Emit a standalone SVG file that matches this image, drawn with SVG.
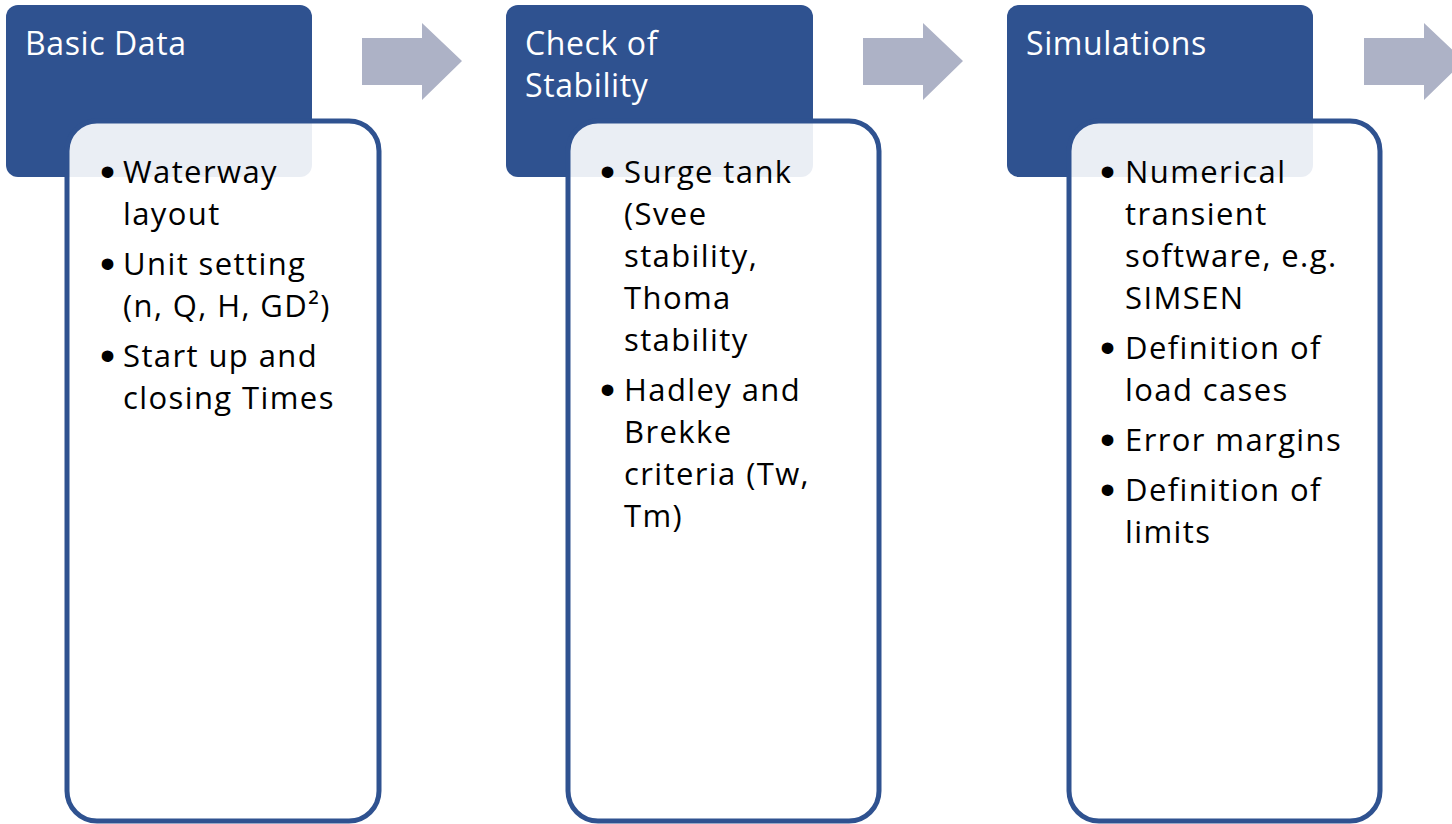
<svg xmlns="http://www.w3.org/2000/svg" width="1452" height="824" viewBox="0 0 1452 824">
<style>
.hdr{fill:#2f5290}
.body{fill:#ffffff;fill-opacity:0.9;stroke:#2f5290;stroke-width:5}
.arr{fill:#adb2c6}
.ht{font-family:"Open Sans","Noto Sans",sans-serif;font-size:32px;fill:#ffffff;letter-spacing:0.6px}
.bt{font-family:"Open Sans","Noto Sans",sans-serif;font-size:31px;fill:#000000;letter-spacing:1.4px}
.bul{font-family:"Liberation Sans",Arial,sans-serif;font-size:43px;fill:#000000}
</style>
<rect width="1452" height="824" fill="#ffffff"/>
<g id="connectors">
<polygon class="arr" points="362,38 422,38 422,23 462,61 422,100 422,85 362,85"/>
<polygon class="arr" points="863,38 923,38 923,23 963,61 923,100 923,85 863,85"/>
<polygon class="arr" points="1364,38 1424,38 1424,23 1464,61 1424,100 1424,85 1364,85"/>
</g>
<g id="node-basic-data">
<rect class="hdr" x="6" y="5" width="306" height="172" rx="12"/>
<rect class="body" x="67" y="121" width="312" height="700" rx="30"/>
<text class="ht" x="25" y="55">Basic Data</text>
<text class="bul" x="100" y="186">•</text><text class="bt" x="123" y="183">Waterway</text>
<text class="bt" x="123" y="225">layout</text>
<text class="bul" x="100" y="278">•</text><text class="bt" x="123" y="275">Unit setting</text>
<text class="bt" x="123" y="317">(n, Q, H, GD²)</text>
<text class="bul" x="100" y="370">•</text><text class="bt" x="123" y="367">Start up and</text>
<text class="bt" x="123" y="409">closing Times</text>
</g>
<g id="node-check-stability">
<rect class="hdr" x="506" y="5" width="307" height="172" rx="12"/>
<rect class="body" x="568" y="121" width="311" height="700" rx="30"/>
<text class="ht" x="525" y="55">Check of</text>
<text class="ht" x="525" y="97">Stability</text>
<text class="bul" x="600" y="186">•</text><text class="bt" x="624" y="183">Surge tank</text>
<text class="bt" x="624" y="225">(Svee</text>
<text class="bt" x="624" y="267">stability,</text>
<text class="bt" x="624" y="309">Thoma</text>
<text class="bt" x="624" y="351">stability</text>
<text class="bul" x="600" y="404">•</text><text class="bt" x="624" y="401">Hadley and</text>
<text class="bt" x="624" y="443">Brekke</text>
<text class="bt" x="624" y="485">criteria (Tw,</text>
<text class="bt" x="624" y="527">Tm)</text>
</g>
<g id="node-simulations">
<rect class="hdr" x="1007" y="5" width="306" height="172" rx="12"/>
<rect class="body" x="1069" y="121" width="311" height="700" rx="30"/>
<text class="ht" x="1026" y="55">Simulations</text>
<text class="bul" x="1100" y="186">•</text><text class="bt" x="1125" y="183">Numerical</text>
<text class="bt" x="1125" y="225">transient</text>
<text class="bt" x="1125" y="267">software, e.g.</text>
<text class="bt" x="1125" y="309">SIMSEN</text>
<text class="bul" x="1100" y="362">•</text><text class="bt" x="1125" y="359">Definition of</text>
<text class="bt" x="1125" y="401">load cases</text>
<text class="bul" x="1100" y="454">•</text><text class="bt" x="1125" y="451">Error margins</text>
<text class="bul" x="1100" y="504">•</text><text class="bt" x="1125" y="501">Definition of</text>
<text class="bt" x="1125" y="543">limits</text>
</g>
</svg>
